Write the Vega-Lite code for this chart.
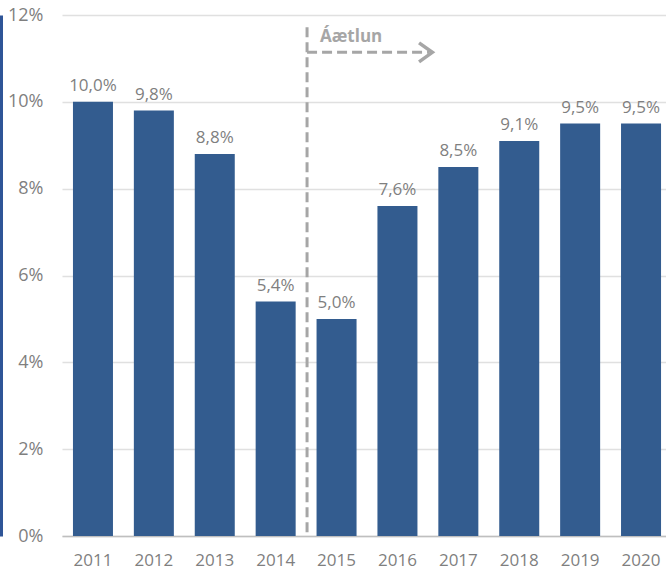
{
  "$schema": "https://vega.github.io/schema/vega-lite/v6.json",
  "width": 604,
  "height": 521,
  "autosize": {"type": "none"},
  "padding": {"left": 62, "top": 15, "right": 0, "bottom": 42},
  "background": "white",
  "config": {
    "view": {"stroke": null},
    "font": "Open Sans",
    "axisY": {"labelFontSize": 18, "labelColor": "#7f7f7f", "labelFont": "Open Sans"},
    "axisX": {"labelFontSize": 17, "labelColor": "#7f7f7f", "labelFont": "Open Sans"},
    "locale": {"number": {"decimal": ",", "thousands": ".", "grouping": [3], "currency": ["", " kr."]}}
  },
  "data": {
    "values": [
      {"year": "2011", "value": 0.100},
      {"year": "2012", "value": 0.098},
      {"year": "2013", "value": 0.088},
      {"year": "2014", "value": 0.054},
      {"year": "2015", "value": 0.050},
      {"year": "2016", "value": 0.076},
      {"year": "2017", "value": 0.085},
      {"year": "2018", "value": 0.091},
      {"year": "2019", "value": 0.095},
      {"year": "2020", "value": 0.095}
    ]
  },
  "encoding": {
    "x": {
      "field": "year", "type": "nominal", "sort": null,
      "scale": {"type": "band", "range": [0, 610], "paddingInner": 0.343, "paddingOuter": 0.18},
      "axis": {
        "title": null, "labelAngle": 0, "ticks": false, "tickSize": 0,
        "labelFontSize": 17, "labelColor": "#7f7f7f", "labelPadding": 16,
        "domainColor": "#bfbfbf", "domainWidth": 1.5, "grid": false
      }
    },
    "y": {
      "field": "value", "type": "quantitative",
      "scale": {"domain": [0, 0.12], "nice": false},
      "axis": {
        "title": null, "values": [0, 0.02, 0.04, 0.06, 0.08, 0.1, 0.12],
        "format": ".0%", "grid": true, "gridColor": "#e0e0e0", "gridWidth": 1.5,
        "ticks": false, "tickSize": 0, "domain": true, "domainColor": "#2f5597",
        "domainWidth": 3, "offset": 61, "labelAlign": "right", "labelPadding": -42,
        "labelFontSize": 18, "labelColor": "#7f7f7f"
      }
    }
  },
  "layer": [
    {
      "mark": {"type": "bar", "color": "#335c8f"}
    },
    {
      "mark": {"type": "text", "baseline": "alphabetic", "dy": -11, "fontSize": 17, "color": "#7f7f7f"},
      "encoding": {
        "text": {"field": "value", "type": "quantitative", "format": ".1%"}
      }
    },
    {
      "data": {"values": [{"year": "2015", "top": 0.1172, "bottom": 0}]},
      "mark": {"type": "rule", "color": "#a6a6a6", "strokeWidth": 3, "strokeDash": [10, 5], "xOffset": -29.5},
      "encoding": {
        "y": {"field": "top", "type": "quantitative"},
        "y2": {"field": "bottom"}
      }
    },
    {
      "data": {"values": [{"year": "2015", "to": "2017", "lvl": 0.1114}]},
      "mark": {"type": "rule", "color": "#a6a6a6", "strokeWidth": 3, "strokeDash": [10, 5], "xOffset": -29.5, "x2Offset": -29},
      "encoding": {
        "x2": {"field": "to"},
        "y": {"field": "lvl", "type": "quantitative"}
      }
    },
    {
      "data": {"values": [{"year": "2017", "lvl": 0.1114}]},
      "mark": {"type": "point", "shape": "M-0.4,-1L1,0L-0.4,1", "size": 361, "filled": false, "stroke": "#a6a6a6", "strokeWidth": 3.5, "opacity": 1, "xOffset": -35.5},
      "encoding": {
        "y": {"field": "lvl", "type": "quantitative"}
      }
    },
    {
      "data": {"values": [{"year": "2015", "lvl": 0.1138, "label": "Áætlun"}]},
      "mark": {"type": "text", "align": "left", "baseline": "alphabetic", "xOffset": -16.5, "fontSize": 17, "fontWeight": "bold", "color": "#a6a6a6"},
      "encoding": {
        "y": {"field": "lvl", "type": "quantitative"},
        "text": {"field": "label"}
      }
    }
  ]
}
